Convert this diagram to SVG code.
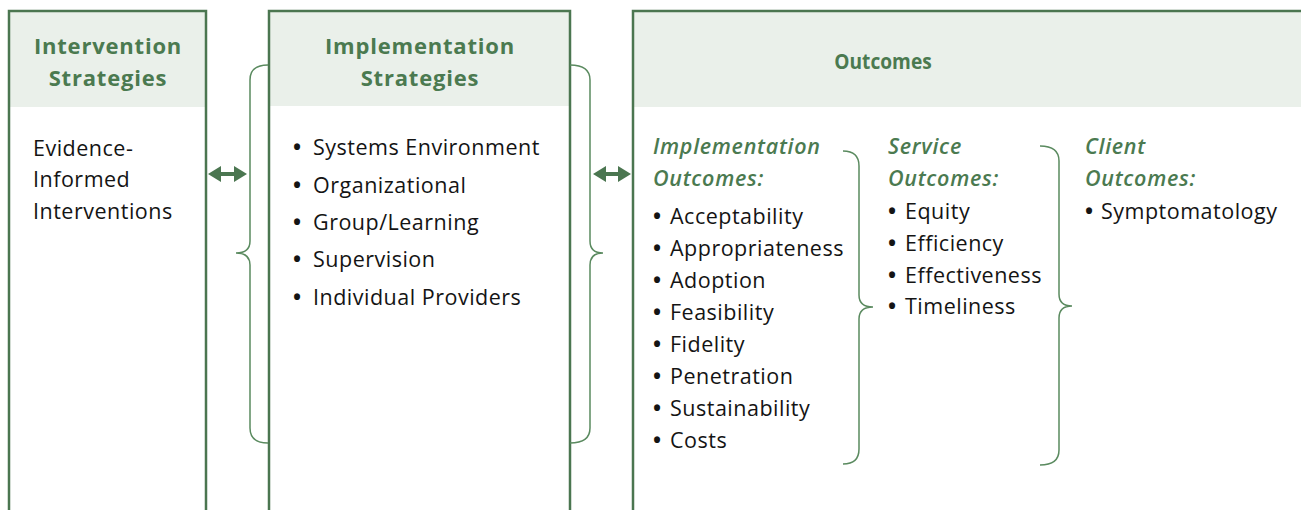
<svg xmlns="http://www.w3.org/2000/svg" width="1301" height="510" viewBox="0 0 1301 510">
<style>
.hdr{fill:#EAF0EA;}
.box{fill:none;stroke:#4B7650;stroke-width:2.5;}
.h{font-family:"Open Sans","Liberation Sans",sans-serif;font-weight:700;font-size:22px;letter-spacing:0.8px;fill:#4B7A50;text-anchor:middle;}
.h2{font-family:"Open Sans","Liberation Sans",sans-serif;font-weight:700;font-size:22px;fill:#4B7A50;text-anchor:middle;}
.t{font-family:"Open Sans","Liberation Sans",sans-serif;font-size:21.5px;letter-spacing:0.5px;fill:#141414;}
.b{font-weight:700;}
.s{font-family:"Open Sans","Liberation Sans",sans-serif;font-size:21.5px;letter-spacing:0.7px;font-style:italic;font-weight:600;fill:#4B7A50;}
.brace{fill:none;stroke:#5A8A5F;stroke-width:1.5;}
.arr{fill:#4B7650;}
</style>
<rect width="1301" height="510" fill="#ffffff"/>
<g id="intervention">
<rect class="hdr" x="9" y="11" width="197" height="96"/>
<path class="box" d="M9,510 V11 H206 V510"/>
<text class="h" x="108" y="54">Intervention</text>
<text class="h" x="108" y="86">Strategies</text>
<text class="t" x="33" y="156">Evidence-</text>
<text class="t" x="33" y="187">Informed</text>
<text class="t" x="33" y="219">Interventions</text>
</g>
<g id="implementation">
<rect class="hdr" x="269" y="11" width="301" height="95"/>
<path class="box" d="M269,510 V11 H570 V510"/>
<text class="h" x="420" y="54">Implementation</text>
<text class="h" x="420" y="86">Strategies</text>
<text class="t"><tspan class="b" x="293" y="155">•</tspan><tspan x="313" y="155">Systems Environment</tspan></text>
<text class="t"><tspan class="b" x="293" y="193">•</tspan><tspan x="313" y="193">Organizational</tspan></text>
<text class="t"><tspan class="b" x="293" y="230">•</tspan><tspan x="313" y="230">Group/Learning</tspan></text>
<text class="t"><tspan class="b" x="293" y="267">•</tspan><tspan x="313" y="267">Supervision</tspan></text>
<text class="t"><tspan class="b" x="293" y="305">•</tspan><tspan x="313" y="305">Individual Providers</tspan></text>
</g>
<g id="outcomes">
<rect class="hdr" x="633" y="11" width="668" height="96"/>
<path class="box" d="M633,510 V11 H1301"/>
<text class="h2" transform="translate(883,69) scale(0.87,1)">Outcomes</text>
</g>
<g id="implementation-outcomes">
<text class="s" x="653" y="154">Implementation</text>
<text class="s" x="653" y="186">Outcomes:</text>
<text class="t"><tspan class="b" x="653" y="224">•</tspan><tspan x="670" y="224">Acceptability</tspan></text>
<text class="t"><tspan class="b" x="653" y="256">•</tspan><tspan x="670" y="256">Appropriateness</tspan></text>
<text class="t"><tspan class="b" x="653" y="288">•</tspan><tspan x="670" y="288">Adoption</tspan></text>
<text class="t"><tspan class="b" x="653" y="320">•</tspan><tspan x="670" y="320">Feasibility</tspan></text>
<text class="t"><tspan class="b" x="653" y="352">•</tspan><tspan x="670" y="352">Fidelity</tspan></text>
<text class="t"><tspan class="b" x="653" y="384">•</tspan><tspan x="670" y="384">Penetration</tspan></text>
<text class="t"><tspan class="b" x="653" y="416">•</tspan><tspan x="670" y="416">Sustainability</tspan></text>
<text class="t"><tspan class="b" x="653" y="448">•</tspan><tspan x="670" y="448">Costs</tspan></text>
</g>
<g id="service-outcomes">
<text class="s" x="888" y="154">Service</text>
<text class="s" x="888" y="186">Outcomes:</text>
<text class="t"><tspan class="b" x="888" y="219">•</tspan><tspan x="905" y="219">Equity</tspan></text>
<text class="t"><tspan class="b" x="888" y="251">•</tspan><tspan x="905" y="251">Efficiency</tspan></text>
<text class="t"><tspan class="b" x="888" y="283">•</tspan><tspan x="905" y="283">Effectiveness</tspan></text>
<text class="t"><tspan class="b" x="888" y="314">•</tspan><tspan x="905" y="314">Timeliness</tspan></text>
</g>
<g id="client-outcomes">
<text class="s" x="1085" y="154">Client</text>
<text class="s" x="1085" y="186">Outcomes:</text>
<text class="t"><tspan class="b" x="1085" y="219">•</tspan><tspan x="1101" y="219">Symptomatology</tspan></text>
</g>
<g id="connectors">
<path class="brace" d="M268,65 Q250,65 250,80 L250,241 Q250,253 236,253 Q250,253 250,265 L250,428 Q250,443 268,443"/>
<path class="brace" d="M570,65 Q590,65 590,80 L590,241 Q590,253 603,253 Q590,253 590,265 L590,428 Q590,443 570,443"/>
<path class="brace" d="M843,151 Q859,151 859,166 L859,295 Q859,307 873,307 Q859,307 859,319 L859,449 Q859,464 843,464"/>
<path class="brace" d="M1040,146 Q1059,146 1059,161 L1059,294 Q1059,306 1072,306 Q1059,306 1059,318 L1059,450 Q1059,465 1040,465"/>
<path class="arr" d="M208,174 L221,166 L221,172 L234,172 L234,166 L247,174 L234,182 L234,176 L221,176 L221,182 Z"/>
<path class="arr" d="M593,174 L606,166 L606,172 L618,172 L618,166 L631,174 L618,182 L618,176 L606,176 L606,182 Z"/>
</g>
</svg>
